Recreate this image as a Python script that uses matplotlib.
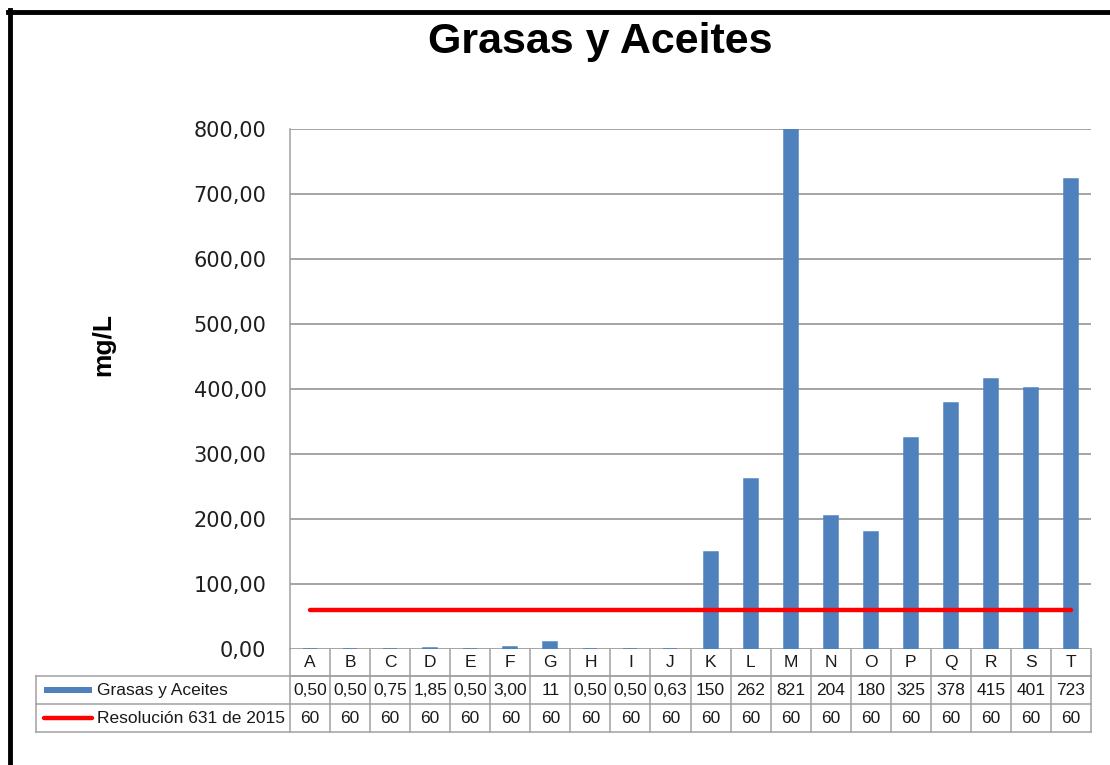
import matplotlib
matplotlib.use("Agg")
import matplotlib.pyplot as plt
from matplotlib.lines import Line2D
from matplotlib.patches import Rectangle

# -------------------------------
# Datos
# -------------------------------
categorias = ["A", "B", "C", "D", "E", "F", "G", "H", "I", "J",
              "K", "L", "M", "N", "O", "P", "Q", "R", "S", "T"]
grasas = [0.50, 0.50, 0.75, 1.85, 0.50, 3.00, 11, 0.50, 0.50, 0.63,
          150, 262, 821, 204, 180, 325, 378, 415, 401, 723]
resolucion = [60] * 20
serie_grasas = "Grasas y Aceites"
serie_norma = "Resolución 631 de 2015"
y_ticks = [0, 100, 200, 300, 400, 500, 600, 700, 800]

AZUL = "#4F81BD"
ROJO = "#FF0000"
GRIS = "#A0A0A0"


def fmt_valor(v):
    if v < 10:
        return f"{v:.2f}".replace(".", ",")
    return f"{v:.0f}"


fig = plt.figure(figsize=(11.1, 7.65), dpi=100)
ax = fig.add_axes([290 / 1110, 1 - 649 / 765, 801 / 1110, 520 / 765])

x = list(range(len(categorias)))
ax.bar(x, grasas, width=0.35, color=AZUL, edgecolor=AZUL, linewidth=1.1, zorder=2)
ax.plot(x, resolucion, color=ROJO, linewidth=3.2, solid_capstyle="round", zorder=3)

ax.set_xlim(-0.5, len(categorias) - 0.5)
ax.set_ylim(0, 800)
ax.set_yticks(y_ticks)
ax.set_yticklabels([f"{t:.2f}".replace(".", ",") for t in y_ticks],
                   fontsize=15, color="#1F1F1F", family="DejaVu Sans")
ax.tick_params(axis="y", length=0, pad=17)
ax.set_xticks([])
ax.grid(axis="y", color="#8C8C8C", linewidth=1.1, zorder=0)
for s in ["top", "right", "bottom"]:
    ax.spines[s].set_visible(False)
ax.spines["left"].set_color(GRIS)
ax.spines["left"].set_linewidth(1.1)

ax.set_ylabel("mg/L", fontsize=19, fontweight="bold", family="Liberation Sans")
ax.yaxis.set_label_coords(-0.218, 0.585)

# -------------------------------
# Tabla de datos
# -------------------------------
tr = ax.get_xaxis_transform()
filas = [0, -0.0519, -0.1058, -0.1596]
x_izq = -6.85
x_der = len(categorias) - 0.5
tabla_kw = dict(transform=tr, clip_on=False, color=GRIS, linewidth=1.1)

ax.plot([-0.5, x_der], [filas[1], filas[1]], **tabla_kw)
ax.plot([x_izq, x_der], [filas[1], filas[1]], **tabla_kw)
ax.plot([x_izq, x_der], [filas[2], filas[2]], **tabla_kw)
ax.plot([x_izq, x_der], [filas[3], filas[3]], **tabla_kw)
ax.plot([x_izq, x_izq], [filas[1], filas[3]], **tabla_kw)
ax.plot([-0.5, -0.5], [filas[0], filas[3]], **tabla_kw)
for i in x:
    ax.plot([i + 0.5, i + 0.5], [filas[0], filas[3]], **tabla_kw)

txt_kw = dict(transform=tr, ha="center", va="center", fontsize=12.5,
              family="Liberation Sans", color="#1A1A1A")
for i, c in enumerate(categorias):
    ax.text(i, (filas[0] + filas[1]) / 2, c, **txt_kw)
    ax.text(i, (filas[1] + filas[2]) / 2, fmt_valor(grasas[i]), **txt_kw)
    ax.text(i, (filas[2] + filas[3]) / 2, f"{resolucion[i]}", **txt_kw)

# claves de leyenda
y2 = (filas[1] + filas[2]) / 2
y3 = (filas[2] + filas[3]) / 2
ax.add_patch(Rectangle((-6.65, y2 - 0.0067), 1.2, 0.0134, transform=tr,
                       clip_on=False, facecolor=AZUL, edgecolor="none"))
ax.plot([-6.65, -5.45], [y3, y3], transform=tr, clip_on=False, color=ROJO,
        linewidth=3.2, solid_capstyle="round")
ax.text(-5.33, y2, serie_grasas, transform=tr, ha="left", va="center",
        fontsize=12.5, family="Liberation Sans", color="#1A1A1A")
ax.text(-5.33, y3, serie_norma, transform=tr, ha="left", va="center",
        fontsize=12.5, family="Liberation Sans", color="#1A1A1A")

# -------------------------------
# Titulo y marco
# -------------------------------
fig.text(600 / 1110, 1 - 53 / 765, "Grasas y Aceites", ha="center", va="baseline",
         fontsize=31, fontweight="bold", family="Liberation Sans")

fig.add_artist(Line2D([10 / 1110, 10 / 1110], [0, 1 - 10 / 765], color="black",
                      linewidth=3.5, transform=fig.transFigure))
fig.add_artist(Line2D([8 / 1110, 1], [1 - 12 / 765, 1 - 12 / 765], color="black",
                      linewidth=3.5, transform=fig.transFigure))

fig.savefig("out.png", dpi=100, facecolor="white")
